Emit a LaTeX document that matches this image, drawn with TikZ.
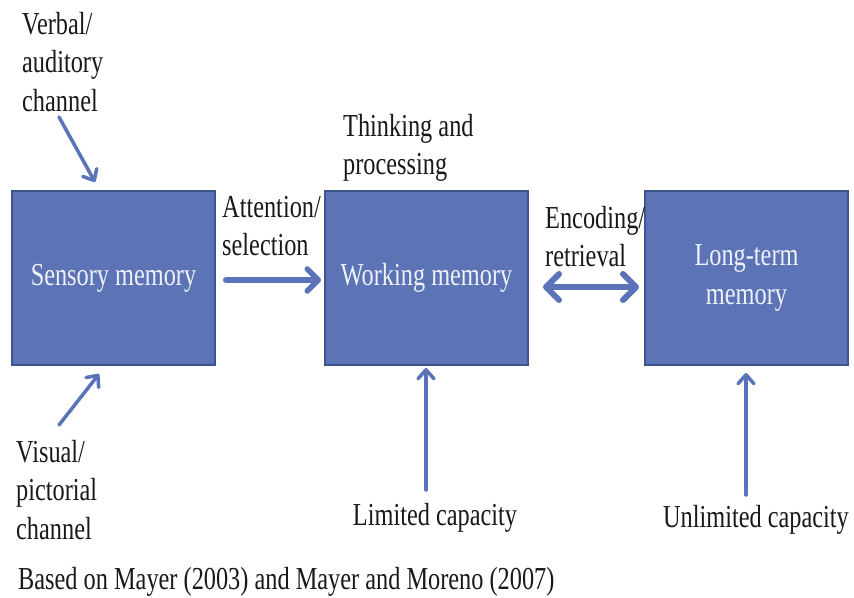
\documentclass[tikz,border=0pt]{standalone}
\usepackage{fontspec}
\setmainfont[FakeStretch=0.76]{Liberation Serif}
\usetikzlibrary{arrows.meta,calc}
\definecolor{boxfill}{RGB}{92,116,182}
\definecolor{boxline}{RGB}{62,84,140}
\definecolor{arrcol}{RGB}{90,115,185}
\definecolor{txt}{RGB}{25,25,25}
\begin{document}
\begin{tikzpicture}[x=1pt,y=-1pt,
  box/.style={draw=boxline,line width=2pt,fill=boxfill,minimum width=203pt,minimum height=174pt,
    inner sep=0pt,text=white!90!boxfill,align=center,font=\fontsize{32}{38.5}\selectfont},
  lbl/.style={inner sep=0pt,align=left,text=txt,font=\fontsize{32}{38.5}\selectfont},
  bigarr/.style={draw=arrcol,line width=6pt,line cap=round,
    -{Straight Barb[length=11pt,width=22pt,line width=5.5pt,round]}},
  dblarr/.style={draw=arrcol,line width=6pt,line cap=round,
    {Straight Barb[length=13pt,width=26pt,line width=6pt,round]}-{Straight Barb[length=13pt,width=26pt,line width=6pt,round]}},
  smallarr/.style={draw=arrcol,line width=3.5pt,line cap=round,
    -{Straight Barb[length=9pt,width=16pt,line width=3.5pt,round]}}
]
\useasboundingbox (0,0) rectangle (854,597);
\fill[white] (0,0) rectangle (854,597);

% boxes
\node[box] (sm) at (113.5,278) {Sensory memory};
\node[box] (wm) at (426.5,278) {Working memory};
\node[box] (ltm) at (746.5,278) {Long-term\\memory};

% labels
\node[lbl,anchor=north west] (verbal) at (22,12) {Verbal/\\auditory\\channel};
\node[lbl,anchor=north west] (visual) at (16,440) {Visual/\\pictorial\\channel};
\node[lbl,anchor=north west] (att) at (222,196) {Attention/\\selection};
\node[lbl,anchor=north west] (think) at (343,114) {Thinking and\\processing};
\node[lbl,anchor=north west] (enc) at (545,206) {Encoding/\\retrieval};
\node[lbl,anchor=base] (lim) at (435,525) {Limited capacity};
\node[lbl,anchor=base] (unlim) at (756,527) {Unlimited capacity};
\node[lbl,anchor=base west] (src) at (18,589) {Based on Mayer (2003) and Mayer and Moreno (2007)};

% connector end points
\coordinate (vA) at (59,117);
\coordinate (vB) at (95,182);
\coordinate (pA) at (59,425);
\coordinate (pB) at (99,374);
\coordinate (aA) at (226,280);
\coordinate (aB) at (321,280);
\coordinate (eA) at (543,287);
\coordinate (eB) at (639,287);
\coordinate (lA) at (426,490);
\coordinate (lB) at (426,368);
\coordinate (uA) at (746,495);
\coordinate (uB) at (746,373);

\draw[smallarr] (vA) -- (vB);
\draw[smallarr] (pA) -- (pB);
\draw[bigarr] (aA) -- (aB);
\draw[dblarr] (eA) -- (eB);
\draw[smallarr] (lA) -- (lB);
\draw[smallarr] (uA) -- (uB);
\end{tikzpicture}
\end{document}
